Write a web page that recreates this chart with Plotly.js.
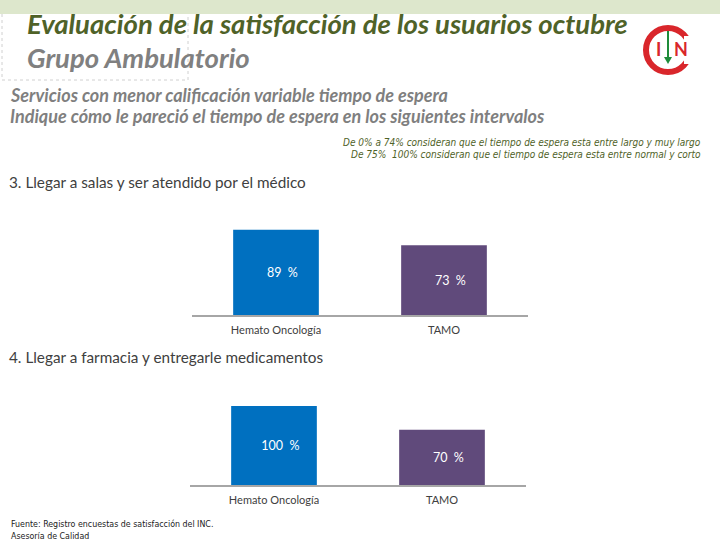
<!DOCTYPE html>
<html>
<head>
<meta charset="utf-8">
<script src="https://cdn.plot.ly/plotly-3.0.1.min.js"></script>
<style>html,body{margin:0;padding:0;background:#fff;}#chart{width:720px;height:540px;}</style>
</head>
<body>
<div id="chart"></div>
<script>
// ---- data ----
var categories = ["Hemato Oncología", "TAMO"];
var values_salas = [89, 73];
var values_farmacia = [100, 70];
var barColors = ["#0070C0", "#604A7B"];
var titleLine1 = "Evaluación de la satisfacción de los usuarios octubre";
var titleLine2 = "Grupo Ambulatorio";
var subtitle1 = "Servicios con menor calificación variable tiempo de espera";
var subtitle2 = "Indique cómo le pareció el tiempo de espera en los siguientes intervalos";
var note1 = "De 0% a 74% consideran que el tiempo de espera esta entre largo y muy largo";
var note2 = "De 75%  100% consideran que el tiempo de espera esta entre normal y corto";
var section1 = "3. Llegar a salas y ser atendido por el médico";
var section2 = "4. Llegar a farmacia y entregarle medicamentos";
var footer1 = "Fuente: Registro encuestas de satisfacción del INC.";
var footer2 = "Asesoría de Calidad";

// ---- helpers ----
var W = 720, H = 540;
function px(x){ return x / W; }
function py(y){ return 1 - y / H; }
var NB = "\u00a0";
function label(v){ return NB+NB+NB+NB + v + NB+NB + "%"; }

var baseFont = "Lato, 'Open Sans', sans-serif";
var narrowFont = "'Liberation Sans Narrow', 'DejaVu Sans Condensed', sans-serif";

var traces = [
  {
    type: "bar", x: categories, y: values_salas, xaxis: "x", yaxis: "y",
    marker: {color: barColors},
    text: values_salas.map(label), textposition: "inside", insidetextanchor: "middle",
    textfont: {color: "#ffffff", size: 12.5, family: baseFont},
    hoverinfo: "none", cliponaxis: false
  },
  {
    type: "bar", x: categories, y: values_farmacia, xaxis: "x2", yaxis: "y2",
    marker: {color: barColors},
    text: values_farmacia.map(label), textposition: "inside", insidetextanchor: "middle",
    textfont: {color: "#ffffff", size: 12.5, family: baseFont},
    hoverinfo: "none", cliponaxis: false
  }
];

function xax(domain){
  return {
    domain: domain, type: "category", range: [-0.5, 1.5], fixedrange: true,
    showline: true, linecolor: "#A6A6A6", linewidth: 2,
    showgrid: false, zeroline: false, ticks: "",
    tickfont: {size: 11, color: "#404040", family: baseFont},
    ticklabelstandoff: 4
  };
}
function yax(domain, anchor){
  return {
    domain: domain, range: [0, 100], visible: false, fixedrange: true, anchor: anchor
  };
}

function ann(text, x, y, size, color, opts){
  var a = {
    text: text, x: px(x), y: py(y), xref: "paper", yref: "paper",
    xanchor: "left", yanchor: "middle", showarrow: false,
    font: {size: size, color: color, family: baseFont}
  };
  if (opts) for (var k in opts) { if (k === "font") { for (var f in opts.font) a.font[f] = opts.font[f]; } else a[k] = opts[k]; }
  return a;
}

var annotations = [
  ann("<b><i>" + titleLine1 + "</i></b>", 25, 24, 27.5, "#4F6228"),
  ann("<b><i>" + titleLine2 + "</i></b>", 25, 58, 27.5, "#808080"),
  ann("<b><i>" + subtitle1 + "</i></b>", 8, 95, 18, "#7F7F7F"),
  ann("<b><i>" + subtitle2 + "</i></b>", 8, 116, 18, "#7F7F7F"),
  ann("<i>" + note1 + "</i>", 703, 142, 10, "#4F6228", {xanchor: "right", font: {family: narrowFont}}),
  ann("<i>" + note2 + "</i>", 349, 155, 10, "#4F6228", {font: {family: narrowFont}}),
  ann(section1, 7, 182, 15.3, "#404040"),
  ann(section2, 7, 357, 15.3, "#404040"),
  ann(footer1, 9, 524, 8.8, "#222222", {font: {family: narrowFont}}),
  ann(footer2, 9, 536, 8.8, "#222222", {font: {family: narrowFont}}),
  // logo letters
  ann("<b>I</b>", 658, 49, 18, "#D9262B", {xanchor: "center"}),
  ann("<b>N</b>", 681, 49, 18, "#D9262B", {xanchor: "center"})
];

var shapes = [
  // top green band
  {type: "rect", xref: "paper", yref: "paper", x0: 0, x1: 1, y0: py(14), y1: 1, fillcolor: "#DDE7CC", line: {width: 0}, layer: "below"},
  // dashed box around title
  {type: "path", xref: "paper", yref: "paper",
   path: "M " + px(2) + "," + py(14) + " L " + px(2) + "," + py(80) + " L " + px(188) + "," + py(80) + " L " + px(188) + "," + py(14),
   line: {color: "#D0D0D0", width: 1, dash: "dot"}, layer: "below"},
  // logo C
  {type: "circle", xref: "paper", yref: "paper", x0: px(646), x1: px(690), y0: py(72), y1: py(28), line: {color: "#D9262B", width: 6}},
  {type: "rect", xref: "paper", yref: "paper", x0: px(684), x1: px(698), y0: py(64), y1: py(36), fillcolor: "#FFFFFF", line: {width: 0}},
  // logo arrow
  {type: "line", xref: "paper", yref: "paper", x0: px(668), x1: px(668), y0: py(31), y1: py(60), line: {color: "#1E8C3A", width: 2}},
  {type: "path", xref: "paper", yref: "paper", path: "M " + px(664) + "," + py(57) + " L " + px(672) + "," + py(57) + " L " + px(668) + "," + py(64) + " Z", fillcolor: "#1E8C3A", line: {width: 0}}
];

var layout = {
  width: W, height: H,
  margin: {l: 0, r: 0, t: 0, b: 0},
  paper_bgcolor: "#ffffff", plot_bgcolor: "rgba(0,0,0,0)",
  showlegend: false, bargap: 0.49,
  font: {family: baseFont},
  xaxis: xax([px(192), px(528)]),
  yaxis: yax([py(315), py(219.3)], "x"),
  xaxis2: Object.assign(xax([px(190), px(526)]), {anchor: "y2"}),
  yaxis2: yax([py(485), py(406)], "x2"),
  annotations: annotations,
  shapes: shapes
};

Plotly.newPlot("chart", traces, layout, {staticPlot: true, displayModeBar: false});
</script>
</body>
</html>
